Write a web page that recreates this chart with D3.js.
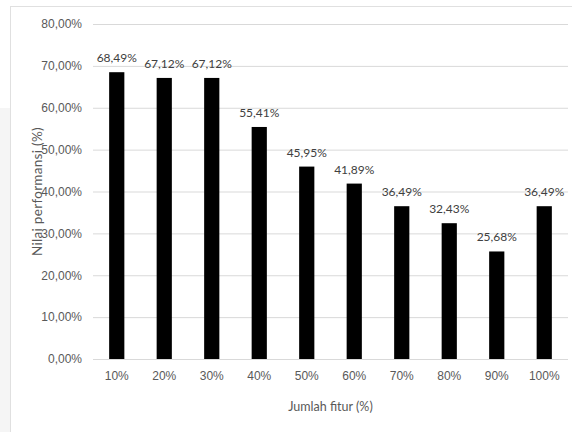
<!DOCTYPE html>
<html>
<head>
<meta charset="utf-8">
<script src="https://cdn.jsdelivr.net/npm/d3@7"></script>
<style>
  body { margin: 0; background: #fff; }
  svg { display: block; font-family: Lato, "Open Sans", sans-serif; }
</style>
</head>
<body>
<svg></svg>
<script>
const categories = ['10%', '20%', '30%', '40%', '50%', '60%', '70%', '80%', '90%', '100%'];
const values = [68.49, 67.12, 67.12, 55.41, 45.95, 41.89, 36.49, 32.43, 25.68, 36.49];
const yTicks = [0, 10, 20, 30, 40, 50, 60, 70, 80];

const width = 572;
const height = 432;
const margin = {top: 24, right: 4, bottom: 73, left: 93};

const svg = d3.select('svg')
    .attr('width', width)
    .attr('height', height);

// grey strip on the far left (page behind the chart)
svg.append('rect')
    .attr('x', 0)
    .attr('y', 108)
    .attr('width', 10)
    .attr('height', height - 108)
    .attr('fill', '#f5f5f5');

// faint frame of the chart area
svg.append('rect')
    .attr('x', 10.5)
    .attr('y', 6.5)
    .attr('width', width)
    .attr('height', height)
    .attr('fill', 'none')
    .attr('stroke', '#e0e0e0');

const x = d3.scaleBand()
    .domain(categories)
    .range([margin.left, width - margin.right])
    .paddingInner(0.68)
    .paddingOuter(0.34);

const y = d3.scaleLinear()
    .domain([0, 80])
    .range([height - margin.bottom, margin.top]);

const fmt = v => d3.format('.2f')(v).replace('.', ',') + '%';

// gridlines + y labels
const yAxis = svg.append('g')
    .attr('transform', `translate(${margin.left},0)`)
    .call(d3.axisLeft(y)
      .tickValues(yTicks)
      .tickSize(-(width - margin.left - margin.right))
      .tickPadding(11)
      .tickFormat(fmt));
yAxis.select('.domain').remove();
yAxis.selectAll('.tick line')
    .attr('stroke', '#d9d9d9');
yAxis.selectAll('.tick text')
    .attr('fill', '#595959')
    .attr('font-size', 12);

// x labels
const xAxis = svg.append('g')
    .attr('transform', `translate(0,${height - margin.bottom})`)
    .call(d3.axisBottom(x).tickSize(0).tickPadding(12));
xAxis.select('.domain').remove();
xAxis.selectAll('.tick text')
    .attr('fill', '#595959')
    .attr('font-size', 12);

// bars
svg.append('g')
  .selectAll('rect')
  .data(values)
  .enter()
  .append('rect')
    .attr('x', (d, i) => x(categories[i]))
    .attr('y', d => y(d))
    .attr('width', x.bandwidth())
    .attr('height', d => y(0) - y(d))
    .attr('fill', '#000');

// data labels
svg.append('g')
  .selectAll('text')
  .data(values)
  .enter()
  .append('text')
    .attr('x', (d, i) => x(categories[i]) + x.bandwidth() / 2)
    .attr('y', d => y(d) - 10)
    .attr('text-anchor', 'middle')
    .attr('fill', '#404040')
    .attr('font-size', 12)
    .text(fmt);

// axis titles
svg.append('text')
    .attr('x', (margin.left + width - margin.right) / 2)
    .attr('y', 411)
    .attr('text-anchor', 'middle')
    .attr('fill', '#595959')
    .attr('font-size', 12.5)
    .text('Jumlah fitur (%)');

svg.append('text')
    .attr('transform', `translate(42,${(margin.top + height - margin.bottom) / 2}) rotate(-90)`)
    .attr('text-anchor', 'middle')
    .attr('fill', '#595959')
    .attr('font-size', 13.5)
    .attr('letter-spacing', 0.3)
    .text('Nilai performansi (%)');
</script>
</body>
</html>
